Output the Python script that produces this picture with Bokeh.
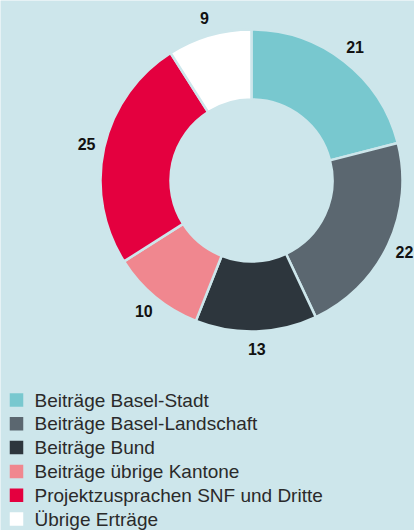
import numpy as np
from bokeh.plotting import figure
from bokeh.models import Range1d, ColumnDataSource
from bokeh.core.properties import value
from bokeh.embed import file_html
from bokeh.resources import INLINE

categories = ["Beiträge Basel-Stadt", "Beiträge Basel-Landschaft", "Beiträge Bund",
              "Beiträge übrige Kantone", "Projektzusprachen SNF und Dritte", "Übrige Erträge"]
values = [21, 22, 13, 10, 25, 9]
colors = ["#78c8cf", "#5b6770", "#2d363d", "#f0878f", "#e4003f", "#ffffff"]

BG = "#cde6eb"
W, H = 414, 530

vals = np.array(values, dtype=float)
frac = vals / vals.sum()
cum = np.concatenate([[0], np.cumsum(frac)])
start = np.pi / 2 - 2 * np.pi * cum[:-1]
end = np.pi / 2 - 2 * np.pi * cum[1:]
mid = (start + end) / 2

cx, cy = 251, H - 180
r_in, r_out, r_lab = 81, 151, 169

p = figure(width=W, height=H, output_backend="svg", toolbar_location=None,
           x_range=Range1d(0, W), y_range=Range1d(0, H), min_border=0)
p.axis.visible = False
p.grid.visible = False
p.outline_line_color = None
p.background_fill_color = BG
p.border_fill_color = BG

src = ColumnDataSource(dict(start=start, end=end, color=colors))
p.annular_wedge(x=cx, y=cy, inner_radius=r_in, outer_radius=r_out,
                start_angle="start", end_angle="end", direction="clock",
                fill_color="color", line_color=BG, line_width=2.5, source=src)

lab = ColumnDataSource(dict(x=cx + r_lab * np.cos(mid), y=cy + r_lab * np.sin(mid),
                            t=[str(v) for v in values]))
p.text(x="x", y="y", text="t", source=lab, text_align="center", text_baseline="middle",
       text_font=value("Liberation Sans"), text_font_style="bold", text_font_size="16px",
       text_color="#111111")

n = len(categories)
ly = [H - (399.5 + 23.8 * i) for i in range(n)]
leg = ColumnDataSource(dict(x=[16] * n, y=ly, tx=[34] * n, t=categories, color=colors))
p.scatter(x="x", y="y", marker="square", size=13.5, fill_color="color", line_color=None, source=leg)
p.text(x="tx", y="y", text="t", source=leg, text_align="left", text_baseline="middle",
       text_font=value("Liberation Sans"), text_font_size="19px", text_color="#2a2a2a")

open("out.html", "w").write(file_html(p, INLINE))
